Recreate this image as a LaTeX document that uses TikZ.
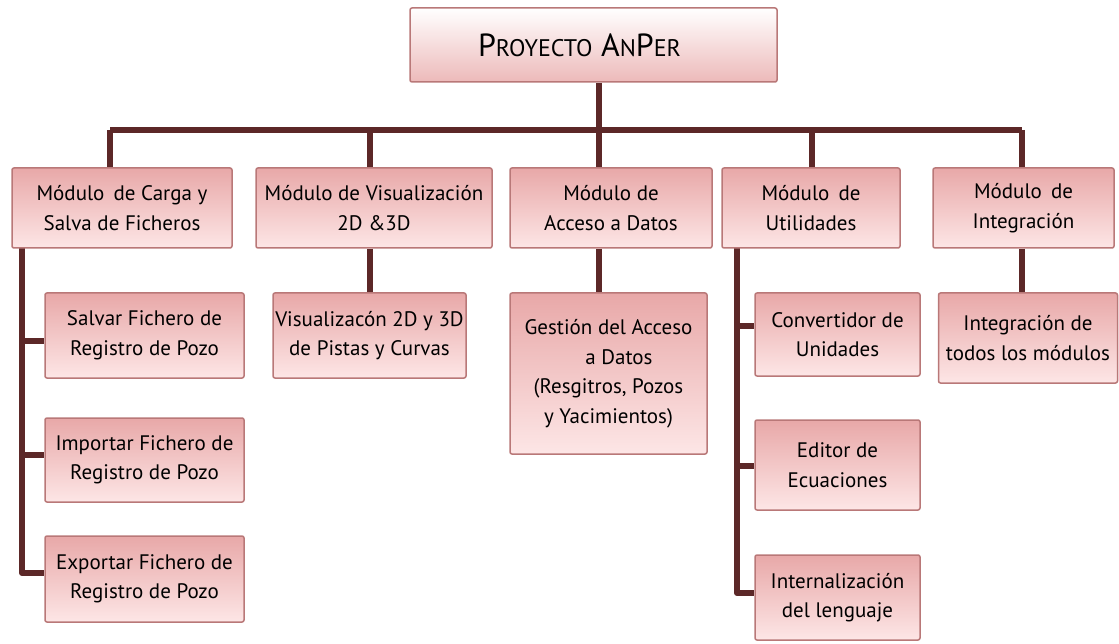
\documentclass[tikz,border=0pt]{standalone}
\usepackage{fontspec}
\setmainfont{PT Sans}
\usetikzlibrary{backgrounds}
\definecolor{bord}{RGB}{185,120,120}
\definecolor{ftop}{RGB}{232,168,168}
\definecolor{fbot}{RGB}{253,230,230}
\definecolor{lnk}{RGB}{92,40,40}
\tikzset{
  box/.style={draw=bord, line width=1.5pt, rounded corners=2pt, top color=ftop, bottom color=fbot, align=center, font=\fontsize{21}{29.5}\selectfont, inner sep=0pt},
  rootbox/.style={box, top color=white, bottom color=ftop!80},
  link/.style={draw=lnk, line width=6pt, line join=round}
}
\begin{document}
\begin{tikzpicture}[x=1pt,y=-1pt]
\useasboundingbox (0,0) rectangle (1119,644);
\node[rootbox, minimum width=367pt, minimum height=74pt] (root) at (593.5,45) {\fontsize{32}{32}\selectfont P{\fontsize{24}{24}\selectfont ROYECTO} A{\fontsize{24}{24}\selectfont N}P{\fontsize{24}{24}\selectfont ER}\hspace{28pt}};
\node[box, minimum width=220pt, minimum height=80pt] (m1) at (122,208) {Módulo\, de Carga y\\Salva de Ficheros};
\node[box, minimum width=236pt, minimum height=80pt] (m2) at (374,208) {Módulo de Visualización\\2D \&3D};
\node[box, minimum width=202pt, minimum height=80pt] (m3) at (611,208) {Módulo de\\Acceso a Datos};
\node[box, minimum width=178pt, minimum height=80pt] (m4) at (811,208) {Módulo\, de\\Utilidades};
\node[box, minimum width=181pt, minimum height=80pt] (m5) at (1023.5,208) {Módulo\, de\\Integración};
\node[box, minimum width=199pt, minimum height=85pt] (s1) at (144.5,335.5) {Salvar Fichero de\\Registro de Pozo};
\node[box, minimum width=199pt, minimum height=84pt] (s2) at (144.5,460) {Importar Fichero de\\Registro de Pozo};
\node[box, minimum width=199pt, minimum height=86pt] (s3) at (144.5,579) {Exportar Fichero de\\Registro de Pozo};
\node[box, minimum width=193pt, minimum height=85pt] (v1) at (369.5,335.5) {Visualizacón 2D y 3D\\de Pistas y Curvas};
\node[box, minimum width=197pt, minimum height=161pt] (g1) at (608.5,373.5) {Gestión del Acceso\\\quad a Datos\\(Resgitros, Pozos\\y Yacimientos)};
\node[box, minimum width=165pt, minimum height=83pt] (u1) at (837.5,334.5) {Convertidor de\\Unidades};
\node[box, minimum width=165pt, minimum height=90pt] (u2) at (837.5,465) {Editor de\\Ecuaciones};
\node[box, minimum width=165pt, minimum height=85pt] (u3) at (837.5,597.5) {Internalización\\del lenguaje};
\node[box, minimum width=179pt, minimum height=90pt] (i1) at (1028,338) {Integración de\\todos los módulos};
\coordinate (bL) at (110,130);
\coordinate (bR) at (1022,130);
\coordinate (b2) at (370,130);
\coordinate (b3) at (599,130);
\coordinate (b4) at (812,130);
\coordinate (c1) at (22,248);
\coordinate (c1e) at (22,573);
\coordinate (c4) at (737,248);
\coordinate (c4e) at (737,593);
\begin{scope}[on background layer]
\draw[link] (bL) -- (bR);
\draw[link] (bL) -- (m1.north -| bL);
\draw[link] (b2) -- (m2.north -| b2);
\draw[link] (root.south -| b3) -- (m3.north -| b3);
\draw[link] (b4) -- (m4.north -| b4);
\draw[link] (bR) -- (m5.north -| bR);
\draw[link] (m2.south -| b2) -- (v1.north -| b2);
\draw[link] (m3.south -| b3) -- (g1.north -| b3);
\draw[link] (m5.south -| bR) -- (i1.north -| bR);
\draw[link] (c1) -- (c1e) -- (s3.west |- c1e);
\draw[link] (c1 |- 0,341) -- (s1.west |- 0,341);
\draw[link] (c1 |- 0,455) -- (s2.west |- 0,455);
\draw[link] (c4) -- (c4e) -- (u3.west |- c4e);
\draw[link] (c4 |- 0,326) -- (u1.west |- 0,326);
\draw[link] (c4 |- 0,466) -- (u2.west |- 0,466);
\end{scope}
\end{tikzpicture}
\end{document}
